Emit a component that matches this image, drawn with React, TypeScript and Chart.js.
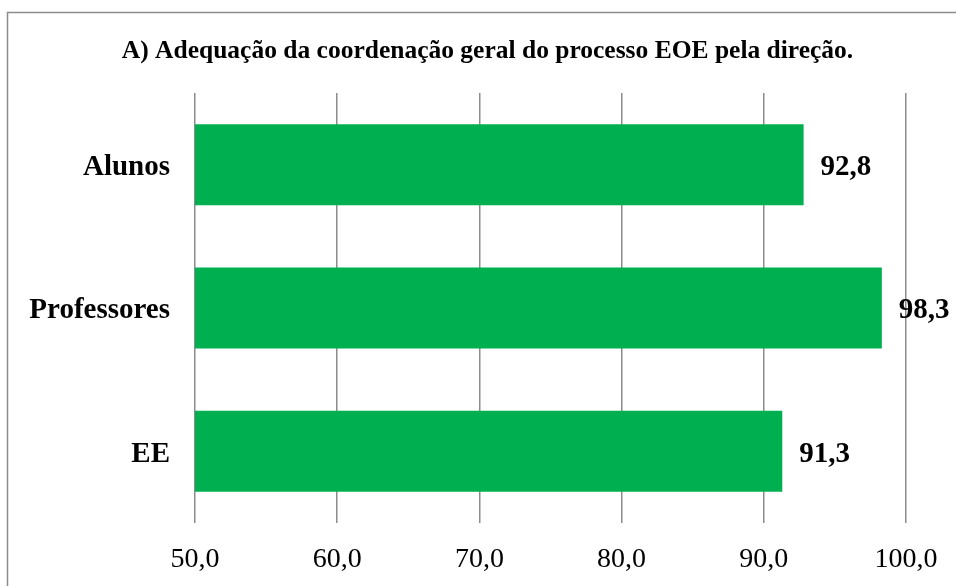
import React, { useEffect, useRef } from "react";
import { Chart, registerables } from "chart.js";

Chart.register(...registerables);

const categories = ["Alunos", "Professores", "EE"];
const values = [92.8, 98.3, 91.3];
const titleText = "A) Adequação da coordenação geral do processo EOE pela direção.";
const xMin = 50;
const xMax = 100;
const xStep = 10;

const fmt = (v: number) => v.toFixed(1).replace(".", ",");

export default function App() {
  const ref = useRef<HTMLCanvasElement | null>(null);
  useEffect(() => {
    if (!ref.current) return;
    const decor = {
      id: "decor",
      beforeDraw(chart: any) {
        const ctx = chart.ctx;
        ctx.save();
        ctx.fillStyle = "#ffffff";
        ctx.fillRect(0, 0, chart.width, chart.height);
        ctx.strokeStyle = "#8c8c8c";
        ctx.lineWidth = 1.5;
        ctx.strokeRect(7.5, 12.5, chart.width + 20, chart.height + 20);
        ctx.fillStyle = "#000000";
        ctx.font = "bold 25.5px 'Liberation Serif'";
        ctx.textAlign = "center";
        ctx.textBaseline = "middle";
        ctx.fillText(titleText, 487.5, 51);
        ctx.restore();
      },
      afterDatasetsDraw(chart: any) {
        const ctx = chart.ctx;
        const meta = chart.getDatasetMeta(0);
        ctx.save();
        ctx.fillStyle = "#000000";
        ctx.font = "bold 29px 'Liberation Serif'";
        ctx.textAlign = "left";
        ctx.textBaseline = "middle";
        meta.data.forEach((el: any, i: number) => {
          ctx.fillText(fmt(values[i]), el.x + 17, el.y + 3);
        });
        ctx.restore();
      },
    };
    const chart = new Chart(ref.current, {
      type: "bar",
      data: {
        labels: categories,
        datasets: [
          {
            data: values,
            backgroundColor: "#00B050",
            borderWidth: 0,
            categoryPercentage: 1,
            barPercentage: 0.565,
          },
        ],
      },
      options: {
        indexAxis: "y",
        animation: false,
        responsive: false,
        layout: { padding: { top: 93, right: 50, left: 0, bottom: 0 } },
        plugins: { legend: { display: false }, tooltip: { enabled: false }, title: { display: false } },
        scales: {
          x: {
            min: xMin,
            max: xMax,
            ticks: {
              stepSize: xStep,
              callback: (v: any) => fmt(Number(v)),
              color: "#000000",
              font: { family: "'Liberation Serif'", size: 28 },
              padding: 20,
            },
            grid: { color: "#8c8c8c", lineWidth: 1.5, drawTicks: false },
            border: { display: false },
            afterFit: (s: any) => {
              s.height = 63;
              s.paddingLeft = 0;
              s.paddingRight = 0;
            },
          },
          y: {
            ticks: {
              color: "#000000",
              font: { family: "'Liberation Serif'", size: 29, weight: "bold" },
              padding: 25,
              labelOffset: 3,
            },
            grid: { display: false, drawTicks: false },
            border: { display: false },
            afterFit: (s: any) => {
              s.width = 195;
            },
          },
        },
      },
      plugins: [decor],
    });
    return () => chart.destroy();
  }, []);
  return (
    <div style={{ position: "fixed", left: 0, top: 0, width: 956, height: 586, background: "#fff" }}>
      <canvas ref={ref} width={956} height={586} style={{ width: 956, height: 586, display: "block" }} />
    </div>
  );
}
